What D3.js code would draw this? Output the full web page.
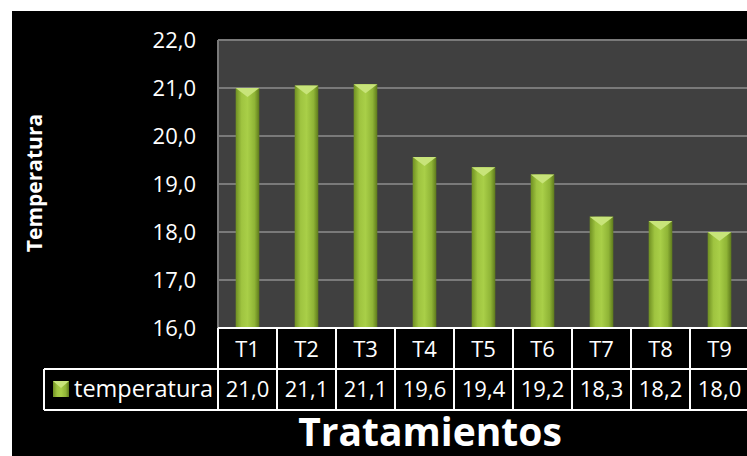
<!DOCTYPE html>
<html><head><meta charset="utf-8">
<script src="https://cdn.jsdelivr.net/npm/d3@7"></script>
<style>body{margin:0;background:#fff}svg{display:block}</style>
</head><body>
<script>
const categories = ["T1","T2","T3","T4","T5","T6","T7","T8","T9"];
const values = [21.0,21.05,21.08,19.56,19.35,19.2,18.32,18.23,18.0];
const valueLabels = ["21,0","21,1","21,1","19,6","19,4","19,2","18,3","18,2","18,0"];
const yTicks = [16,17,18,19,20,21,22];
const seriesName = "temperatura";

const W=747,H=456;
const svg=d3.select("body").append("svg").attr("width",W).attr("height",H);
const font="Open Sans, Liberation Sans, sans-serif";
svg.append("rect").attr("x",12).attr("y",11).attr("width",W-12).attr("height",H-11).attr("fill","#000");

const x0=218, x1=749, yTop=40, yBot=328;
const x=d3.scaleBand().domain(categories).range([x0,x1]).paddingInner(0).paddingOuter(0);
const y=d3.scaleLinear().domain([16,22]).range([yBot,yTop]);

const defs=svg.append("defs");
const g1=defs.append("linearGradient").attr("id","barG").attr("x1",0).attr("x2",1).attr("y1",0).attr("y2",0);
[[0,"#6f8f22"],[0.25,"#9fc440"],[0.5,"#a9cf48"],[0.8,"#8fb436"],[1,"#5e7a1c"]].forEach(s=>g1.append("stop").attr("offset",s[0]).attr("stop-color",s[1]));

svg.append("rect").attr("x",x0).attr("y",yTop).attr("width",x1-x0).attr("height",yBot-yTop).attr("fill","#404040");
svg.selectAll(".grid").data(yTicks).join("line").attr("x1",x0).attr("x2",x1)
  .attr("y1",d=>y(d)).attr("y2",d=>y(d)).attr("stroke","#7a7a7a").attr("stroke-width",2);
svg.append("line").attr("x1",x0).attr("x2",x0).attr("y1",yTop).attr("y2",yBot).attr("stroke","#7a7a7a").attr("stroke-width",2);

const bw=x.bandwidth()*0.4;
const bars=svg.selectAll(".bar").data(categories).join("g");
bars.append("rect").attr("x",d=>x(d)+(x.bandwidth()-bw)/2).attr("y",(d,i)=>y(values[i]))
  .attr("width",bw).attr("height",(d,i)=>yBot-y(values[i])).attr("fill","url(#barG)");
bars.append("path").attr("d",(d,i)=>{
  const l=x(d)+(x.bandwidth()-bw)/2, r=l+bw, t=y(values[i]), c=(l+r)/2;
  return `M${l},${t}L${r},${t}L${c},${t+9}Z`;}).attr("fill","#c8e47a");

// y axis labels
svg.selectAll(".yt").data(yTicks).join("text").attr("x",196).attr("y",d=>y(d)+8)
  .attr("text-anchor","end").attr("fill","#fff").attr("font-family",font).attr("font-size",22).text(d=>d.toFixed(1).replace(".",","));

// table
const r1=328,r2=369,r3=410,lx=44;
const tb=svg.append("g").attr("stroke","#fff").attr("stroke-width",2);
tb.append("line").attr("x1",x0).attr("x2",W).attr("y1",r1).attr("y2",r1);
tb.append("line").attr("x1",lx).attr("x2",W).attr("y1",r2).attr("y2",r2);
tb.append("line").attr("x1",lx).attr("x2",W).attr("y1",r3).attr("y2",r3);
tb.append("line").attr("x1",lx).attr("x2",lx).attr("y1",r2).attr("y2",r3);
tb.selectAll(".vl").data(categories.concat(["end"])).join("line")
  .attr("x1",(d,i)=>x0+i*x.bandwidth()).attr("x2",(d,i)=>x0+i*x.bandwidth()).attr("y1",r1).attr("y2",r3);
svg.selectAll(".cl").data(categories).join("text").attr("x",d=>x(d)+x.bandwidth()/2).attr("y",r1+29)
  .attr("text-anchor","middle").attr("fill","#fff").attr("font-family",font).attr("font-size",22).text(d=>d);
svg.selectAll(".vv").data(valueLabels).join("text").attr("x",(d,i)=>x(categories[i])+x.bandwidth()/2).attr("y",r2+28)
  .attr("text-anchor","middle").attr("fill","#fff").attr("font-family",font).attr("font-size",22).text(d=>d);
svg.append("rect").attr("x",53).attr("y",381).attr("width",16).attr("height",16).attr("fill","url(#barG)");
svg.append("path").attr("d","M53,381L69,381L61,388Z").attr("fill","#c8e47a");
svg.append("text").attr("x",74).attr("y",r2+28).attr("fill","#fff").attr("font-family",font).attr("font-size",23.5).text(seriesName);

svg.append("text").attr("x",430).attr("y",446).attr("text-anchor","middle").attr("fill","#fff")
  .attr("font-family",font).attr("font-weight","bold").attr("font-size",39).text("Tratamientos");
svg.append("text").attr("transform","translate(42,183) rotate(-90)").attr("text-anchor","middle").attr("fill","#fff")
  .attr("font-family",font).attr("font-weight","bold").attr("font-size",21).text("Temperatura");
</script>
</body></html>
